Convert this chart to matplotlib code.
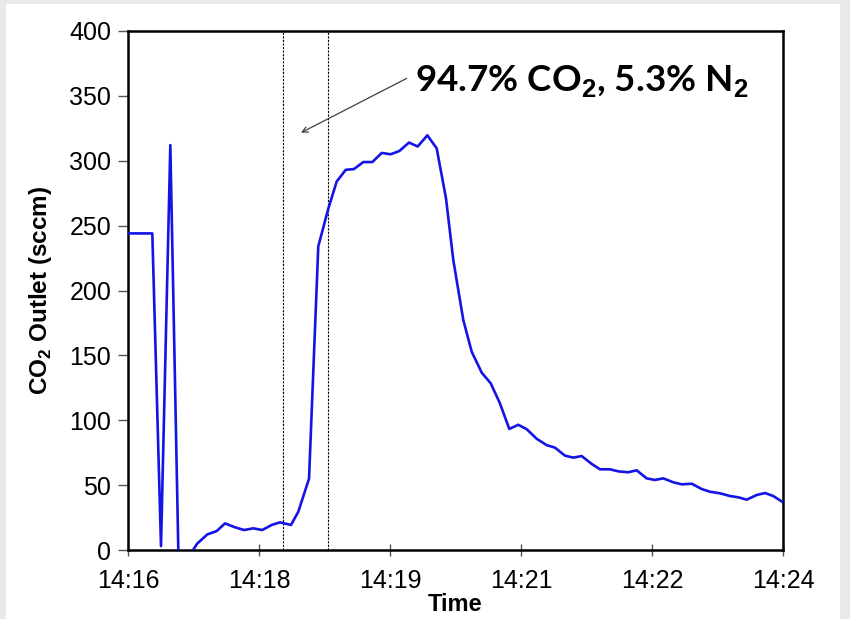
import matplotlib.pyplot as plt
from matplotlib.patches import Rectangle

# time in minutes after 14:16, CO2 outlet flow in sccm
minutes = [0.0, 0.1, 0.2, 0.297, 0.403, 0.517, 0.627, 0.733, 0.846, 0.969,
           1.083, 1.185, 1.307, 1.417, 1.530, 1.640, 1.755, 1.856, 1.991, 2.080,
           2.211, 2.324, 2.446, 2.549, 2.659, 2.760, 2.874, 2.984, 3.099, 3.209,
           3.314, 3.432, 3.538, 3.656, 3.770, 3.884, 3.973, 4.095, 4.198, 4.320,
           4.430, 4.543, 4.657, 4.767, 4.870, 4.992, 5.114, 5.215, 5.337, 5.439,
           5.541, 5.664, 5.765, 5.887, 5.988, 6.110, 6.213, 6.335, 6.436, 6.538,
           6.660, 6.763, 6.885, 7.007, 7.108, 7.231, 7.353, 7.454, 7.557, 7.679,
           7.780, 7.881, 8.0]
co2 = [244, 244, 244, 244, 3, 312, -40, -6, 5, 12,
       14.6, 20.5, 17.5, 15.4, 16.7, 15.4, 19.3, 21.3, 19.3, 29.5,
       55, 234, 263, 284, 293, 293.6, 299, 299, 306, 305,
       307.5, 314, 311, 319.6, 309.6, 271, 223.5, 177.3, 152.8, 136.7,
       128.5, 113, 93.3, 96.5, 93.1, 85.7, 80.8, 78.9, 72.7, 71.2,
       72.4, 66.3, 62.2, 62.2, 60.6, 59.9, 61.4, 55.2, 54, 55.2,
       52.2, 50.6, 51.1, 47, 44.9, 43.7, 41.6, 40.6, 38.8, 42.4,
       43.9, 41.6, 36.8]

tick_pos = [0, 1.6, 3.2, 4.8, 6.4, 8.0]
tick_labels = ['14:16', '14:18', '14:19', '14:21', '14:22', '14:24']
switch_lines = [1.897, 2.446]

plt.rcParams['font.family'] = ['Liberation Sans', 'DejaVu Sans']
plt.rcParams['mathtext.fontset'] = 'custom'
plt.rcParams['mathtext.rm'] = 'Liberation Sans'
plt.rcParams['mathtext.bf'] = 'Liberation Sans:bold'

fig = plt.figure(figsize=(8.5, 6.19), dpi=100, facecolor='#e9e9e9')
fig.patches.append(Rectangle((6 / 850, 0), 834 / 850, 615 / 619,
                             transform=fig.transFigure, facecolor='white',
                             edgecolor='none', zorder=-10))
ax = fig.add_axes([128 / 850, 69 / 619, 655 / 850, 519 / 619])

ax.plot(minutes, co2, color='#1414e6', lw=1.9, zorder=3)
for x in switch_lines:
    ax.axvline(x, color='black', lw=0.8, ls=(0, (2, 1.2)), zorder=2)

ax.set_xlim(0, 8)
ax.set_ylim(0, 400)
ax.set_yticks(range(0, 401, 50))
ax.set_xticks(tick_pos)
ax.set_xticklabels(tick_labels)
ax.tick_params(axis='both', labelsize=18, color='#555555')
ax.tick_params(axis='y', direction='out', length=7, width=1, pad=5)
ax.tick_params(axis='x', direction='inout', length=9, width=1, pad=9)
for s in ax.spines.values():
    s.set_linewidth(1.8)
    s.set_color('black')

ax.set_xlabel('Time', fontsize=17, fontweight='bold', labelpad=0)
ax.set_ylabel(r'CO$_\mathbf{2}$ Outlet (sccm)', fontsize=17.5,
              fontweight='bold', labelpad=11)

ax.annotate('', xy=(2.113, 321.6), xytext=(3.404, 363.5),
            arrowprops=dict(arrowstyle='->', color='#404040', lw=0.9,
                            shrinkA=0, shrinkB=0))
ax.text(3.505, 353.2, r'94.7% CO$_\mathbf{2}$, 5.3% N$_\mathbf{2}$',
        fontsize=26.5, fontweight='bold', family=['Lato', 'DejaVu Sans'],
        va='baseline', ha='left')

fig.savefig('out.png', dpi=100, facecolor=fig.get_facecolor())
